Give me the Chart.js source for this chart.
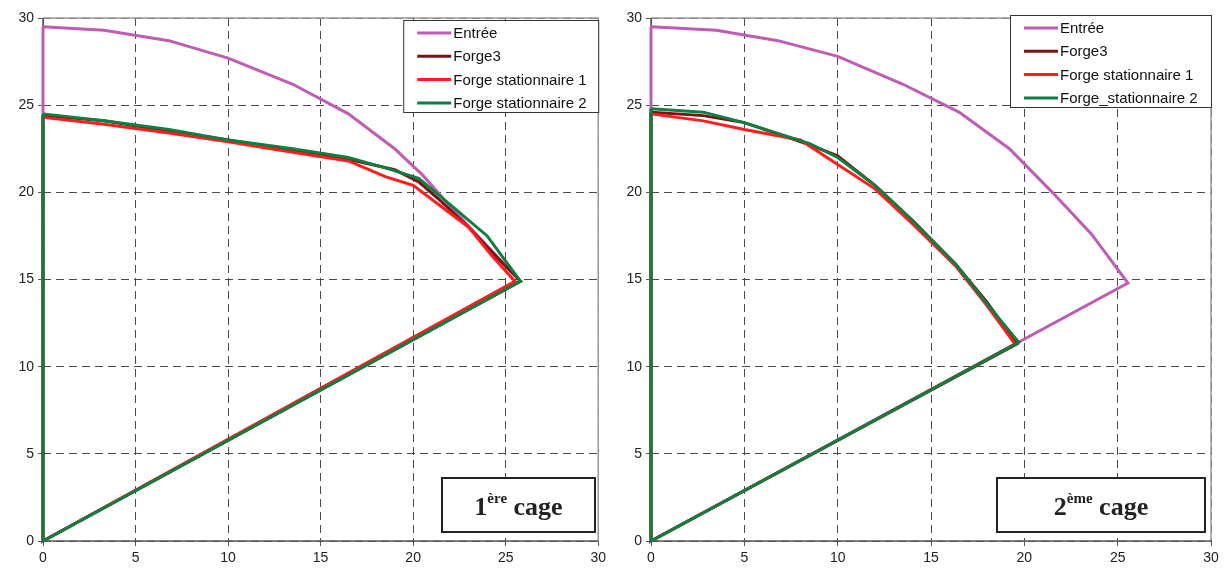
<!DOCTYPE html>
<html>
<head>
<meta charset="utf-8">
<script src="https://cdn.jsdelivr.net/npm/chart.js@4.4.1/dist/chart.umd.min.js"></script>
<style>
  body { margin: 0; background: #fff; }
  #wrap { position: relative; width: 1226px; height: 572px; }
  .box { position: absolute; top: 0; height: 572px; }
</style>
</head>
<body>
<div id="wrap">
  <div class="box" style="left:0;width:610px"><canvas id="Cage1"></canvas></div>
  <div class="box" style="left:610px;width:616px"><canvas id="Cage2"></canvas></div>
</div>
<script>
// tick values
const xTicks = [0, 5, 10, 15, 20, 25, 30];
const yTicks = [0, 5, 10, 15, 20, 25, 30];

const seriesNames1 = ['Entrée', 'Forge3', 'Forge stationnaire 1', 'Forge stationnaire 2'];
const seriesNames2 = ['Entrée', 'Forge3', 'Forge stationnaire 1', 'Forge_stationnaire 2'];

// 1ere cage
const entree1X = [0, 3.3, 6.8, 10, 13.5, 16.5, 19, 20.5, 22, 23.5, 25.8, 0, 0];
const entree1Y = [29.5, 29.3, 28.7, 27.7, 26.2, 24.5, 22.5, 21, 19.2, 17.5, 14.9, 0, 29.5];
const forge3_1X = [0, 3.3, 6.8, 10, 13.5, 16.5, 19, 20.3, 21.5, 23, 24.5, 25.8, 0, 0];
const forge3_1Y = [24.4, 24.1, 23.5, 23, 22.4, 21.9, 21.3, 20.6, 19.5, 18, 16.3, 14.9, 0, 24.4];
const stat1_1X = [0, 3.3, 6.8, 10, 13.5, 16.5, 18.5, 20, 21.5, 23, 24.3, 25.5, 0, 0];
const stat1_1Y = [24.3, 23.9, 23.4, 22.9, 22.3, 21.8, 20.9, 20.4, 19.2, 18, 16.3, 14.9, 0, 24.3];
const stat2_1X = [0, 3.3, 6.8, 10, 13.5, 16.5, 18.5, 20.3, 22, 24, 25.8, 0, 0];
const stat2_1Y = [24.5, 24.1, 23.6, 23, 22.5, 22, 21.4, 20.8, 19.3, 17.5, 14.9, 0, 24.5];

// 2eme cage
const entree2X = [0, 3.5, 6.8, 10, 13.5, 16.5, 19.2, 21.5, 23.6, 25.55, 0, 0];
const entree2Y = [29.5, 29.3, 28.7, 27.8, 26.2, 24.6, 22.5, 20, 17.6, 14.8, 0, 29.5];
const forge3_2X = [0, 2.8, 5, 8.3, 10, 12, 14, 16.3, 18, 19.6, 0, 0];
const forge3_2Y = [24.6, 24.4, 24, 22.8, 22.1, 20.4, 18.4, 15.9, 13.7, 11.3, 0, 24.6];
const stat1_2X = [0, 2.8, 5, 8, 10, 12, 14, 16.3, 18, 19.5, 0, 0];
const stat1_2Y = [24.5, 24.1, 23.6, 23, 21.6, 20.2, 18.2, 15.8, 13.5, 11.3, 0, 24.5];
const stat2_2X = [0, 2.8, 5, 8.5, 10, 12, 14, 16.3, 18, 19.7, 0, 0];
const stat2_2Y = [24.8, 24.6, 24, 22.8, 22, 20.4, 18.4, 15.9, 13.6, 11.4, 0, 24.8];

const colors = ['#c05cb4', '#7a1414', '#ff1c1c', '#0b8040'];

function pts(xs, ys) {
    return xs.map((x, i) => ({ x: x, y: ys[i] }));
}

function makeDatasets(names, series) {
    return series.map((s, i) => ({
        label: names[i],
        data: pts(s[0], s[1]),
        borderColor: colors[i],
        backgroundColor: colors[i],
        borderWidth: 3,
        pointRadius: 0,
        showLine: true,
        tension: 0,
        clip: 4,
        order: 4 - i
    }));
}

// frame under the lines, legend box + cage label on top
const boxPlugin = {
    id: 'boxPlugin',
    beforeDatasetsDraw(chart) {
        const ctx = chart.ctx;
        const a = chart.chartArea;
        ctx.save();
        ctx.strokeStyle = '#9a9a9a';
        ctx.lineWidth = 1.5;
        ctx.beginPath();
        ctx.moveTo(a.left, a.top);
        ctx.lineTo(a.right, a.top);
        ctx.lineTo(a.right, a.bottom);
        ctx.stroke();
        ctx.strokeStyle = '#555';
        ctx.beginPath();
        ctx.moveTo(a.left, a.top);
        ctx.lineTo(a.left, a.bottom);
        ctx.lineTo(a.right, a.bottom);
        ctx.stroke();
        ctx.restore();
    },
    afterDraw(chart, args, opts) {
        const ctx = chart.ctx;
        const a = chart.chartArea;
        ctx.save();

        // legend
        const lw = opts.legendWidth, lh = 92;
        const lx = a.right - lw, ly = a.top + opts.legendTop;
        ctx.fillStyle = '#fff';
        ctx.fillRect(lx, ly, lw, lh);
        ctx.strokeStyle = '#333';
        ctx.lineWidth = 1;
        ctx.strokeRect(lx + 0.5, ly + 0.5, lw, lh);
        ctx.font = '15px "Liberation Sans", Arial, sans-serif';
        ctx.textBaseline = 'middle';
        chart.data.datasets.forEach((ds, i) => {
            const yy = ly + 13 + i * 23.3;
            ctx.strokeStyle = ds.borderColor;
            ctx.lineWidth = 3;
            ctx.beginPath();
            ctx.moveTo(lx + 14, yy);
            ctx.lineTo(lx + 48, yy);
            ctx.stroke();
            ctx.fillStyle = '#111';
            ctx.fillText(ds.label, lx + 50, yy + 1);
        });

        // cage label
        const bx = opts.cageX, by = a.bottom - 63, bw = opts.cageW, bh = 54;
        ctx.fillStyle = '#fff';
        ctx.fillRect(bx, by, bw, bh);
        ctx.strokeStyle = '#222';
        ctx.lineWidth = 2;
        ctx.strokeRect(bx, by, bw, bh);
        ctx.fillStyle = '#222';
        ctx.textBaseline = 'alphabetic';
        const big = 'bold 26px "Liberation Serif", "Times New Roman", serif';
        const small = 'bold 15px "Liberation Serif", "Times New Roman", serif';
        ctx.font = big;
        const w1 = ctx.measureText(opts.num).width;
        const w3 = ctx.measureText(' cage').width;
        ctx.font = small;
        const w2 = ctx.measureText(opts.sup).width;
        let tx = bx + (bw - w1 - w2 - w3) / 2;
        const base = by + 37;
        ctx.font = big;
        ctx.fillText(opts.num, tx, base);
        tx += w1;
        ctx.font = small;
        ctx.fillText(opts.sup, tx, base - 12);
        tx += w2;
        ctx.font = big;
        ctx.fillText(' cage', tx, base);
        ctx.restore();
    }
};

function makeConfig(datasets, leftWidth, rightPad, extra) {
    const tickFont = { family: '"Liberation Sans", Arial, sans-serif', size: 14 };
    const grid = {
        color: '#4a4a4a',
        lineWidth: 1,
        drawTicks: true,
        tickLength: 5,
        tickBorderDash: [],
        tickColor: '#555'
    };
    const border = { display: false, dash: [8, 5] };
    return {
        type: 'scatter',
        data: { datasets: datasets },
        options: {
            responsive: true,
            maintainAspectRatio: false,
            animation: false,
            layout: { padding: { top: 18, right: rightPad, left: 0, bottom: 0 } },
            scales: {
                x: {
                    type: 'linear',
                    min: 0, max: 30,
                    afterBuildTicks: s => { s.ticks = xTicks.map(v => ({ value: v })); },
                    afterFit: s => { s.height = 31; },
                    ticks: { font: tickFont, color: '#222', padding: 4, maxRotation: 0 },
                    grid: grid,
                    border: border
                },
                y: {
                    type: 'linear',
                    min: 0, max: 30,
                    afterBuildTicks: s => { s.ticks = yTicks.map(v => ({ value: v })); },
                    afterFit: s => { s.width = leftWidth; },
                    ticks: { font: tickFont, color: '#222', padding: 4 },
                    grid: grid,
                    border: border
                }
            },
            plugins: {
                legend: { display: false },
                tooltip: { enabled: false },
                boxPlugin: extra
            }
        },
        plugins: [boxPlugin]
    };
}

window.onload = function() {
    const ds1 = makeDatasets(seriesNames1, [
        [entree1X, entree1Y], [forge3_1X, forge3_1Y], [stat1_1X, stat1_1Y], [stat2_1X, stat2_1Y]
    ]);
    const ds2 = makeDatasets(seriesNames2, [
        [entree2X, entree2Y], [forge3_2X, forge3_2Y], [stat1_2X, stat1_2Y], [stat2_2X, stat2_2Y]
    ]);

    const ctx = document.getElementById('Cage1').getContext('2d');
    new Chart(ctx, makeConfig(ds1, 43, 9, { legendWidth: 195, legendTop: 2, num: '1', sup: 'ère', cageX: 442, cageW: 153 }));

    const ctx2 = document.getElementById('Cage2').getContext('2d');
    new Chart(ctx2, makeConfig(ds2, 41, 15, { legendWidth: 201, legendTop: -3, num: '2', sup: 'ème', cageX: 387, cageW: 208 }));
};
</script>
</body>
</html>
